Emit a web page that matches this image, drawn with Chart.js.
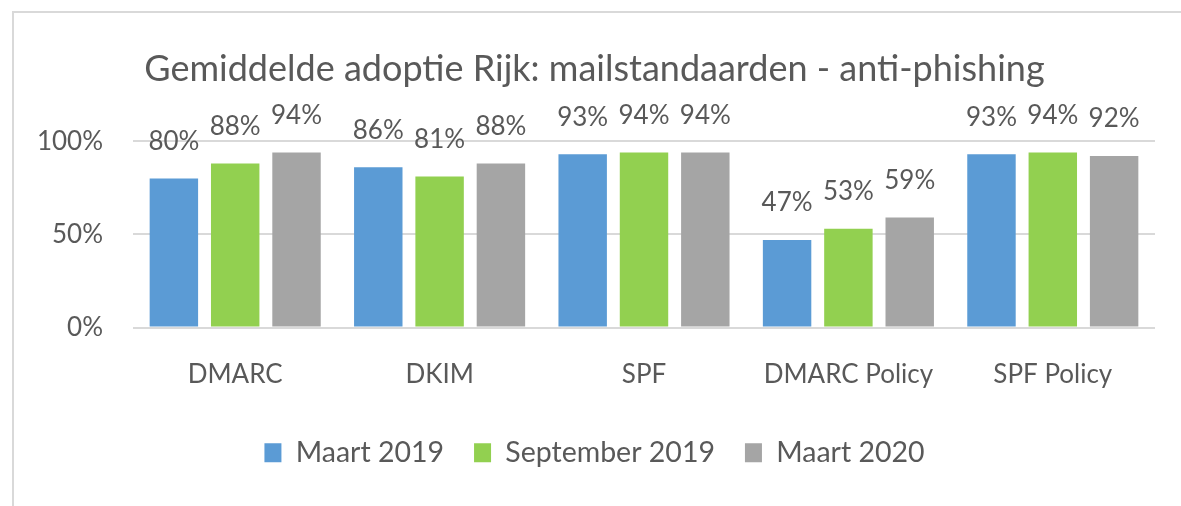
<!DOCTYPE html>
<html>
<head>
<meta charset="utf-8">
<script src="https://cdn.jsdelivr.net/npm/chart.js@4"></script>
<style>
  html, body { margin: 0; padding: 0; background: #fff; overflow: hidden; }
  #box {
    position: absolute; left: 12px; top: 11px;
    border-top: 2px solid #d9d9d9; border-left: 2px solid #d9d9d9;
    width: 1180px; height: 500px;
  }
  canvas { display: block; }
</style>
</head>
<body>
<div id="box"><canvas id="myChart" width="1174" height="493"></canvas></div>
<script>
const categories = ["DMARC", "DKIM", "SPF", "DMARC Policy", "SPF Policy"];
const seriesNames = ["Maart 2019", "September 2019", "Maart 2020"];
const maart2019 = [80, 86, 93, 47, 93];
const september2019 = [88, 81, 94, 53, 94];
const maart2020 = [94, 88, 94, 59, 92];
const yTicks = [0, 50, 100];

const textColor = "#595959";
const fontName = "Lato";

// percentages above the bars, like the excel data labels
const barLabels = {
  id: "barLabels",
  afterDatasetsDraw(chart) {
    const ctx = chart.ctx;
    ctx.save();
    ctx.font = "26px " + fontName;
    ctx.fillStyle = textColor;
    ctx.textAlign = "center";
    ctx.textBaseline = "middle";
    chart.data.datasets.forEach((ds, i) => {
      chart.getDatasetMeta(i).data.forEach((bar, j) => {
        ctx.fillText(ds.data[j] + "%", bar.x, bar.y - 37);
      });
    });
    ctx.restore();
  }
};

new Chart("myChart", {
  type: "bar",
  data: {
    labels: categories,
    datasets: [{
      label: seriesNames[0],
      data: maart2019,
      backgroundColor: "#5b9bd5"
    }, {
      label: seriesNames[1],
      data: september2019,
      backgroundColor: "#92d050"
    }, {
      label: seriesNames[2],
      data: maart2020,
      backgroundColor: "#a5a5a5"
    }]
  },
  options: {
    responsive: false,
    animation: false,
    layout: { padding: { left: 20, right: 33, top: 0, bottom: 29 } },
    categoryPercentage: 0.9,
    barPercentage: 0.79,
    plugins: {
      title: {
        display: true,
        text: "Gemiddelde adoptie Rijk: mailstandaarden - anti-phishing",
        color: textColor,
        font: { family: fontName, size: 36, weight: "normal" },
        padding: { top: 35, bottom: 50 }
      },
      legend: {
        position: "bottom",
        labels: {
          color: textColor,
          font: { family: fontName, size: 28.5 },
          boxWidth: 17,
          boxHeight: 19,
          padding: 30
        }
      },
      tooltip: { enabled: false }
    },
    scales: {
      x: {
        grid: { display: false },
        border: { display: false },
        ticks: {
          color: textColor,
          font: { family: fontName, size: 26 },
          padding: 24
        },
        afterFit: s => { s.height = 81; }
      },
      y: {
        min: 0,
        max: 100,
        afterBuildTicks: s => { s.ticks = yTicks.map(v => ({ value: v })); },
        grid: { color: "#d9d9d9", lineWidth: 2, drawTicks: false },
        border: { display: false },
        ticks: {
          color: textColor,
          font: { family: fontName, size: 26 },
          padding: 30,
          callback: v => v + "%"
        },
        afterFit: s => { s.width = 99; }
      }
    }
  },
  plugins: [barLabels]
});
</script>
</body>
</html>
